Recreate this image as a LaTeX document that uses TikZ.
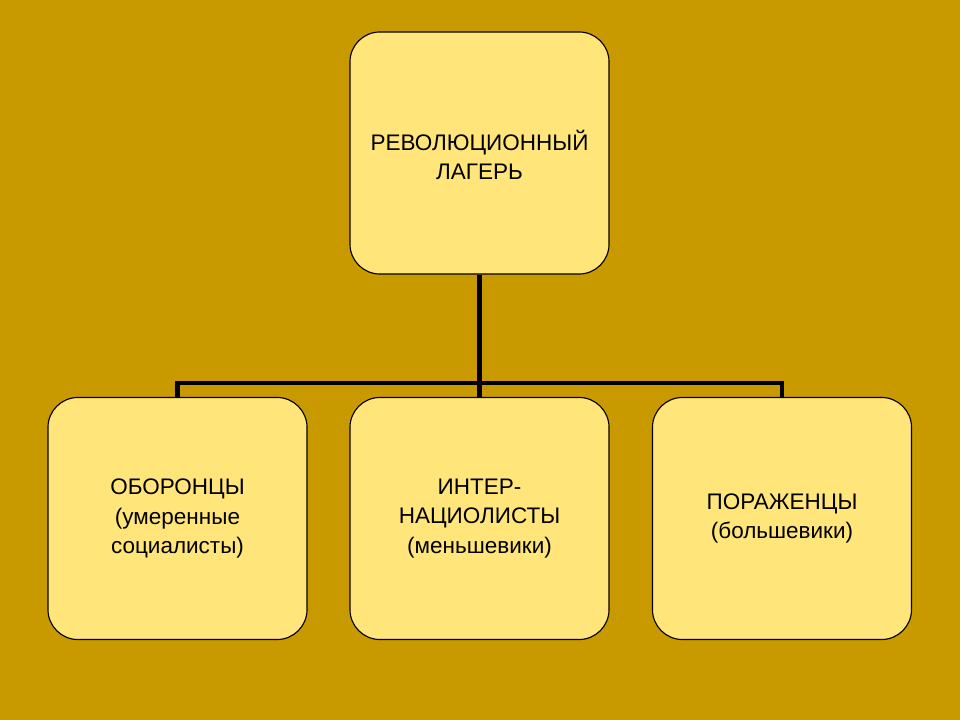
\documentclass[tikz,border=0pt]{standalone}
\usepackage{fontspec}
\setmainfont{Liberation Sans}
\definecolor{bg}{HTML}{C99A00}
\definecolor{boxy}{HTML}{FFE57A}
\begin{document}
\begin{tikzpicture}[x=0.025cm,y=-0.025cm,
  card/.style={draw=black,line width=0.8pt,fill=boxy,rounded corners=0.75cm,minimum width=6.475cm,minimum height=6.05cm,inner sep=0pt,align=center,font=\fontsize{16}{21}\selectfont},
  link/.style={line width=3.5pt}]
\fill[bg] (0,0) rectangle (960,720);
\useasboundingbox (0,0) rectangle (960,720);
\node[card] (top) at (479.5,153) {};
\node[font=\fontsize{16}{21}\selectfont,align=center] (toptext) at (479.5,155) {РЕВОЛЮЦИОННЫЙ\\ЛАГЕРЬ};
\node[card] (a) at (177.5,518.5) {ОБОРОНЦЫ\\(умеренные\\ социалисты)};
\node[card] (b) at (479.5,518.5) {ИНТЕР-\\НАЦИОЛИСТЫ\\(меньшевики)};
\node[card] (c) at (782,518.5) {ПОРАЖЕНЦЫ\\(большевики)};
\coordinate (j) at (479.5,383);
\draw[link] (top.south) -- (j);
\draw[link] (a.north) -- (a.north|-j) -- (c.north|-j) -- (c.north);
\draw[link] (j) -- (b.north);
\end{tikzpicture}
\end{document}
